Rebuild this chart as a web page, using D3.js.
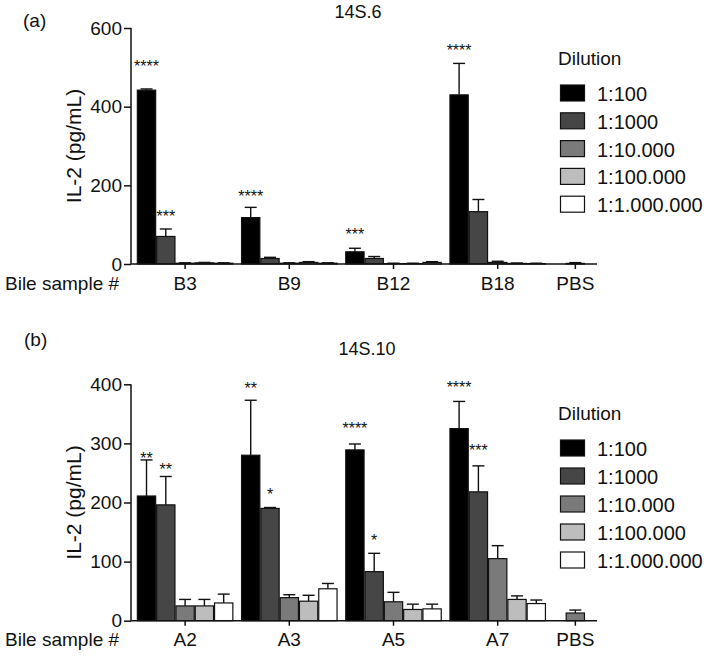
<!DOCTYPE html>
<html>
<head>
<meta charset="utf-8">
<script src="https://cdn.jsdelivr.net/npm/d3@7"></script>
<style>
  html, body { margin: 0; padding: 0; background: #fff; }
  svg text { font-family: "Liberation Sans", Arial, Helvetica, sans-serif; fill: #111; }
</style>
</head>
<body>
<svg id="chart" width="709" height="656"></svg>
<script>
// ---------- DATA ----------
const dilutions = ["1:100", "1:1000", "1:10.000", "1:100.000", "1:1.000.000"];

// Panel (a) 14S.6
const titleA = "14S.6";
const samplesA = ["B3", "B9", "B12", "B18"];
const meansA = [
  [442, 70, 2, 3, 2],
  [118, 14, 2, 4, 2],
  [31, 14, 1, 1, 4],
  [430, 133, 4, 1.5, 1]
];
const errsA = [
  [3, 19, 1, 1, 1],
  [26, 3, 1, 2, 1],
  [9, 5, 1, 1, 2],
  [80, 31, 3, 1, 1]
];
const pbsMeanA = 1.5, pbsErrA = 2;
const starsA = [
  { sample: "B3", dil: "1:100", label: "****", level: 510 },
  { sample: "B3", dil: "1:1000", label: "***", level: 130 },
  { sample: "B9", dil: "1:100", label: "****", level: 181 },
  { sample: "B12", dil: "1:100", label: "***", level: 84 },
  { sample: "B18", dil: "1:100", label: "****", level: 552 }
];
const yTicksA = [0, 200, 400, 600];

// Panel (b) 14S.10
const titleB = "14S.10";
const samplesB = ["A2", "A3", "A5", "A7"];
const meansB = [
  [211, 196, 25, 25, 30],
  [280, 190, 39, 33, 54],
  [289, 83, 32, 19, 20],
  [325, 218, 105, 36, 29]
];
const errsB = [
  [61, 48, 11, 11, 15],
  [93, 1.5, 5, 10, 9],
  [10, 31, 16, 9, 8],
  [46, 44, 22, 6, 6]
];
const pbsMeanB = 13, pbsErrB = 5;
const starsB = [
  { sample: "A2", dil: "1:100", label: "**", level: 280 },
  { sample: "A2", dil: "1:1000", label: "**", level: 262 },
  { sample: "A3", dil: "1:100", label: "**", level: 399 },
  { sample: "A3", dil: "1:1000", label: "*", level: 219 },
  { sample: "A5", dil: "1:100", label: "****", level: 331 },
  { sample: "A5", dil: "1:1000", label: "*", level: 141 },
  { sample: "A7", dil: "1:100", label: "****", level: 400 },
  { sample: "A7", dil: "1:1000", label: "***", level: 294 }
];
const yTicksB = [0, 100, 200, 300, 400];

const yLabel = "IL-2 (pg/mL)";
const xLabel = "Bile sample #";
const legendTitle = "Dilution";
const pbsLabel = "PBS";

// ---------- STYLE ----------
const colors = ["#000000", "#464646", "#7a7a7a", "#bdbdbd", "#ffffff"];
const color = d3.scaleOrdinal().domain(dilutions).range(colors);

const svg = d3.select("#chart");

function drawPanel(cfg) {
  const g = svg.append("g");
  const axisX0 = 131, axisX1 = 597;
  const step = 104.2;
  const groupStart = 133;
  const y = d3.scaleLinear().domain([0, cfg.ymax]).range([cfg.bottom, cfg.top]);

  const xGroup = d3.scaleBand().domain(cfg.samples)
    .range([groupStart, groupStart + step * cfg.samples.length])
    .paddingInner(0.074).paddingOuter(0.037);
  const xDil = d3.scaleBand().domain(dilutions).range([0, xGroup.bandwidth()]);
  const bw = xDil.bandwidth();
  const pbsCenter = xGroup(cfg.samples[cfg.samples.length - 1]) + xGroup.bandwidth() / 2 + 0.745 * step;

  const bars = [];
  cfg.samples.forEach((s, i) => {
    dilutions.forEach((d, j) => {
      bars.push({ x: xGroup(s) + xDil(d), mean: cfg.means[i][j], err: cfg.errs[i][j], dil: d });
    });
  });
  bars.push({ x: pbsCenter - bw / 2, mean: cfg.pbsMean, err: cfg.pbsErr, dil: dilutions[2] });

  // error bars (upper only)
  const eb = g.append("g").attr("stroke", "#111").attr("stroke-width", 1.4);
  bars.forEach(b => {
    const cx = b.x + bw / 2;
    eb.append("line").attr("x1", cx).attr("x2", cx).attr("y1", y(b.mean)).attr("y2", y(b.mean + b.err));
    eb.append("line").attr("x1", cx - 6).attr("x2", cx + 6).attr("y1", y(b.mean + b.err)).attr("y2", y(b.mean + b.err));
  });

  // bars
  g.append("g").selectAll("rect").data(bars).join("rect")
    .attr("x", d => d.x + 0.5)
    .attr("width", bw - 1)
    .attr("y", d => y(d.mean))
    .attr("height", d => Math.max(0, y(0) - y(d.mean)))
    .attr("fill", d => color(d.dil))
    .attr("stroke", "#111")
    .attr("stroke-width", 1.2);

  // y axis
  const yAxis = d3.axisLeft(y).tickValues(cfg.yTicks).tickSize(7).tickPadding(2).tickFormat(d3.format("d"));
  const ya = g.append("g").attr("transform", `translate(${axisX0},0)`).call(yAxis);
  ya.select(".domain").attr("stroke", "#111").attr("stroke-width", 1.5).attr("d", `M0,${cfg.top}V${cfg.bottom}`);
  ya.selectAll(".tick line").attr("stroke", "#111").attr("stroke-width", 1.5);
  ya.selectAll(".tick text").attr("font-size", 19).attr("fill", "#111")
    .attr("font-family", '"Liberation Sans", Arial, sans-serif');

  // x axis
  const xa = g.append("g");
  xa.append("line").attr("x1", axisX0).attr("x2", axisX1).attr("y1", cfg.bottom).attr("y2", cfg.bottom)
    .attr("stroke", "#111").attr("stroke-width", 1.5);
  const tickPos = cfg.samples.map(s => ({ label: s, x: xGroup(s) + xGroup.bandwidth() / 2 }));
  tickPos.push({ label: pbsLabel, x: pbsCenter });
  tickPos.forEach(t => {
    xa.append("line").attr("x1", t.x).attr("x2", t.x).attr("y1", cfg.bottom).attr("y2", cfg.bottom + 5)
      .attr("stroke", "#111").attr("stroke-width", 1.5);
    xa.append("text").attr("x", t.x).attr("y", cfg.bottom + cfg.labelDy).attr("text-anchor", "middle")
      .attr("font-size", 19).text(t.label);
  });
  g.append("text").attr("x", 5).attr("y", cfg.bottom + cfg.labelDy).attr("font-size", 19).text(xLabel);

  // y label
  g.append("text")
    .attr("transform", `translate(${81},${(cfg.top + cfg.bottom) / 2}) rotate(-90)`)
    .attr("text-anchor", "middle").attr("font-size", 21).text(yLabel);

  // stars
  cfg.stars.forEach(st => {
    const cx = xGroup(st.sample) + xDil(st.dil) + bw / 2;
    g.append("text").attr("x", cx).attr("y", y(st.level) + 9).attr("text-anchor", "middle")
      .attr("font-size", 16).text(st.label);
  });

  // titles
  g.append("text").attr("x", cfg.titleX).attr("y", cfg.titleY).attr("text-anchor", "middle")
    .attr("font-size", 18).text(cfg.title);
  g.append("text").attr("x", cfg.panelX).attr("y", cfg.panelY).attr("font-size", 19).text(cfg.panel);

  // legend
  const lg = g.append("g");
  lg.append("text").attr("x", 558).attr("y", cfg.legendY).attr("font-size", 19).text(legendTitle);
  dilutions.forEach((d, k) => {
    const ry = cfg.legendY + 20 + k * cfg.legendStep;
    lg.append("rect").attr("x", 560.5).attr("y", ry).attr("width", 24).attr("height", 16)
      .attr("fill", color(d)).attr("stroke", "#111").attr("stroke-width", 1.2);
    lg.append("text").attr("x", 597).attr("y", ry + 16).attr("font-size", 20).text(d);
  });
}

drawPanel({
  panel: "(a)", panelX: 23, panelY: 27,
  title: titleA, titleX: 358, titleY: 18,
  samples: samplesA, means: meansA, errs: errsA, pbsMean: pbsMeanA, pbsErr: pbsErrA,
  stars: starsA, yTicks: yTicksA, ymax: 600, top: 28, bottom: 264, labelDy: 26,
  legendY: 65, legendStep: 27.8
});
drawPanel({
  panel: "(b)", panelX: 24, panelY: 346,
  title: titleB, titleX: 367, titleY: 355,
  samples: samplesB, means: meansB, errs: errsB, pbsMean: pbsMeanB, pbsErr: pbsErrB,
  stars: starsB, yTicks: yTicksB, ymax: 400, top: 384.3, bottom: 620.7, labelDy: 25,
  legendY: 420, legendStep: 28
});
</script>
</body>
</html>
